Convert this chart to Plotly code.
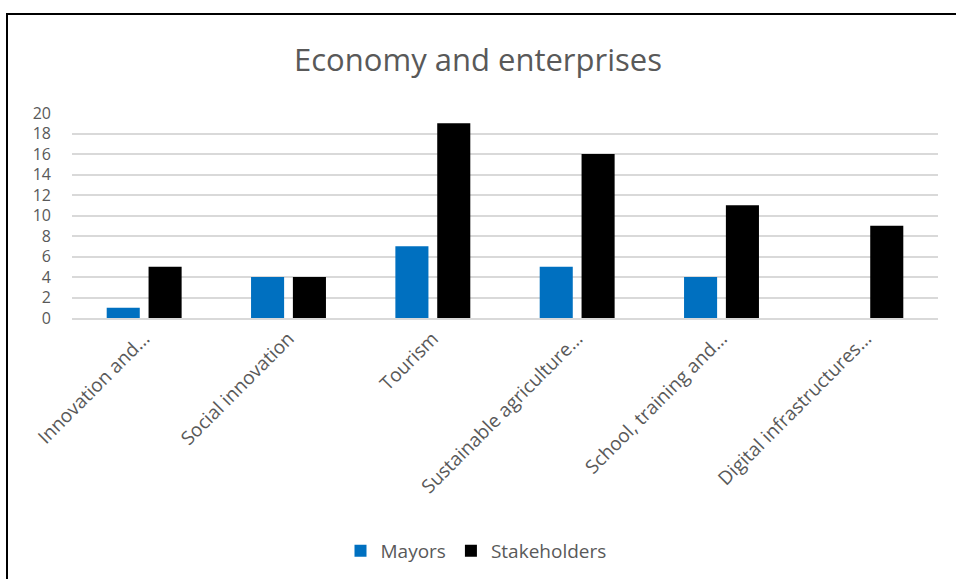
import plotly.graph_objects as go

categories = [
    "Innovation and...",
    "Social innovation",
    "Tourism",
    "Sustainable agriculture...",
    "School, training and...",
    "Digital infrastructures...",
]
mayors = [1, 4, 7, 5, 4, 0]
stakeholders = [5, 4, 19, 16, 11, 9]
y_ticks = list(range(0, 21, 2))

W, H = 956, 579
ml, mr, mt, mb = 72, 18, 113, 261
pw, ph = W - ml - mr, H - mt - mb

font_family = "Open Sans, Liberation Sans, sans-serif"
text_color = "#595959"

fig = go.Figure()
fig.add_trace(go.Bar(name="Mayors", x=categories, y=mayors,
                     marker=dict(color="#0070c0", line=dict(width=0))))
fig.add_trace(go.Bar(name="Stakeholders", x=categories, y=stakeholders,
                     marker=dict(color="#000000", line=dict(width=0))))

# outer chart frame (left and top edges visible, rest runs off the page)
def px_x(p):
    return (p - ml) / pw

def px_y(p):
    return (H - mb - p) / ph

fig.add_shape(type="rect", xref="paper", yref="paper",
              x0=px_x(7), x1=px_x(980), y0=px_y(600), y1=px_y(14),
              line=dict(color="#000000", width=2), fillcolor="rgba(0,0,0,0)",
              layer="above")

fig.update_layout(
    width=W, height=H,
    margin=dict(l=ml, r=mr, t=mt, b=mb, autoexpand=False),
    paper_bgcolor="white", plot_bgcolor="white",
    font=dict(family=font_family, color=text_color, size=16),
    title=dict(text="Economy and enterprises", x=0.5, xanchor="center",
               y=1 - 60 / H, yanchor="middle",
               font=dict(size=31, color=text_color, family=font_family)),
    barmode="group", bargap=0.42, bargroupgap=0.21,
    showlegend=True,
    legend=dict(orientation="h", x=px_x(476), xanchor="center",
                y=px_y(551), yanchor="middle",
                font=dict(size=19, color=text_color),
                itemwidth=30, traceorder="normal"),
    xaxis=dict(tickangle=-45, showgrid=False, showline=True,
               linecolor="#d9d9d9", linewidth=2, ticks="",
               tickfont=dict(size=19, color=text_color)),
    yaxis=dict(range=[0, 20], tickvals=y_ticks, showgrid=True,
               gridcolor="#d9d9d9", gridwidth=1.5, zeroline=False,
               showline=False, ticks="", ticklabelstandoff=20,
               tickfont=dict(size=16, color=text_color)),
)

fig.write_html("out.html")
